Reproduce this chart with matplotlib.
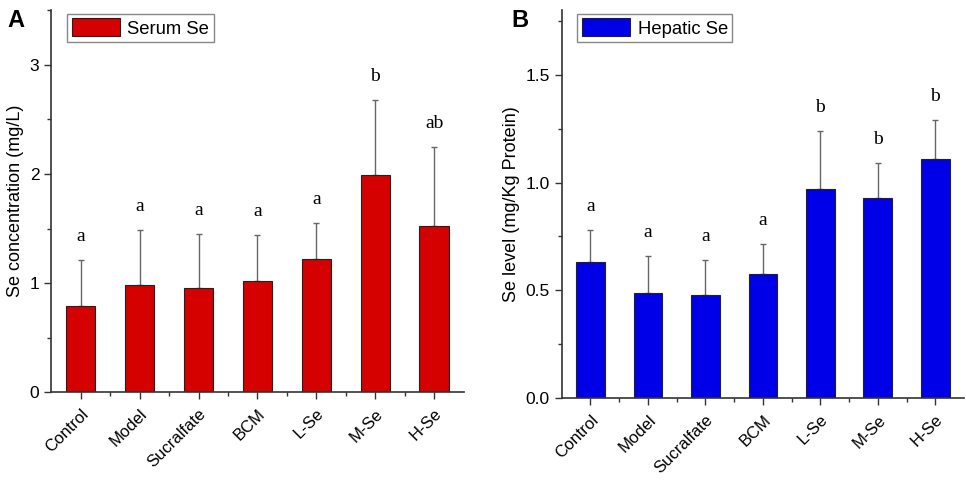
import matplotlib
matplotlib.use("Agg")
import matplotlib.pyplot as plt
from matplotlib.ticker import MultipleLocator, FixedLocator, FormatStrFormatter

groups = ["Control", "Model", "Sucralfate", "BCM", "L-Se", "M-Se", "H-Se"]

serum_mean = [0.79, 0.98, 0.96, 1.02, 1.22, 1.99, 1.52]
serum_sd = [0.42, 0.51, 0.49, 0.42, 0.33, 0.69, 0.73]
serum_letters = ["a", "a", "a", "a", "a", "b", "ab"]

hepatic_mean = [0.63, 0.49, 0.48, 0.575, 0.97, 0.93, 1.11]
hepatic_sd = [0.15, 0.17, 0.16, 0.14, 0.27, 0.16, 0.18]
hepatic_letters = ["a", "a", "a", "a", "b", "b", "b"]

plt.rcParams['font.family'] = ['Liberation Sans', 'DejaVu Sans']

fig = plt.figure(figsize=(9.66, 4.82), dpi=100)
ax1 = fig.add_axes([0.053, 0.186, 0.427, 0.793])
ax2 = fig.add_axes([0.5815, 0.174, 0.4165, 0.805])


def draw_panel(ax, means, sds, letters, color, label, ylabel, ymax, major, minor):
    x = list(range(len(groups)))
    ax.bar(x, means, width=0.5, color=color, edgecolor="#222222", linewidth=0.8,
           label=label, zorder=2)
    ax.errorbar(x, means, yerr=[[0] * len(sds), sds], fmt="none", ecolor="#666666",
                elinewidth=1.0, capsize=2.5, capthick=1.0, zorder=1)
    for xi, m, s, t in zip(x, means, sds, letters):
        ax.annotate(t, (xi, m + s), xytext=(0, 17), textcoords="offset points",
                    ha="center", va="center", fontsize=14, family="Liberation Serif")
    ax.set_xlim(-0.5, len(groups) - 0.5)
    ax.set_ylim(0, ymax)
    ax.yaxis.set_major_locator(MultipleLocator(major))
    ax.yaxis.set_minor_locator(MultipleLocator(minor))
    ax.set_xticks(x)
    ax.xaxis.set_minor_locator(FixedLocator([i + 0.5 for i in range(len(groups) - 1)]))
    ax.set_xticklabels(groups, rotation=45, ha="right", rotation_mode="anchor", fontsize=12)
    ax.tick_params(axis="y", labelsize=12.5, direction="out", length=5, width=1, color="#333333")
    ax.tick_params(axis="y", which="minor", direction="out", length=3, width=1, color="#333333")
    ax.tick_params(axis="x", direction="out", length=5, width=1, color="#333333", pad=5)
    ax.tick_params(axis="x", which="minor", direction="out", length=3, width=1, color="#333333")
    ax.spines["top"].set_visible(False)
    ax.spines["right"].set_visible(False)
    for sp in ("left", "bottom"):
        ax.spines[sp].set_color("#333333")
        ax.spines[sp].set_linewidth(1.2)
    ax.set_ylabel(ylabel, fontsize=13)
    leg = ax.legend(loc="upper left", bbox_to_anchor=(0.03, 1.0), fontsize=13.3,
                    fancybox=False, framealpha=1, edgecolor="#888888",
                    handlelength=2.6, handleheight=1.1, borderpad=0.25,
                    handletextpad=0.4, borderaxespad=0.2)
    leg.get_frame().set_linewidth(1.0)


draw_panel(ax1, serum_mean, serum_sd, serum_letters, "#d50000", "Serum Se",
           "Se concentration (mg/L)", 3.5, 1, 0.5)
draw_panel(ax2, hepatic_mean, hepatic_sd, hepatic_letters, "#0000e8", "Hepatic Se",
           "Se level (mg/Kg Protein)", 1.8, 0.5, 0.25)
ax2.yaxis.set_major_formatter(FormatStrFormatter("%.1f"))

fig.text(0.016, 0.958, "A", fontsize=17, fontweight="bold", ha="center", va="center")
fig.text(0.538, 0.958, "B", fontsize=17, fontweight="bold", ha="center", va="center")

fig.savefig("out.png", dpi=100)
